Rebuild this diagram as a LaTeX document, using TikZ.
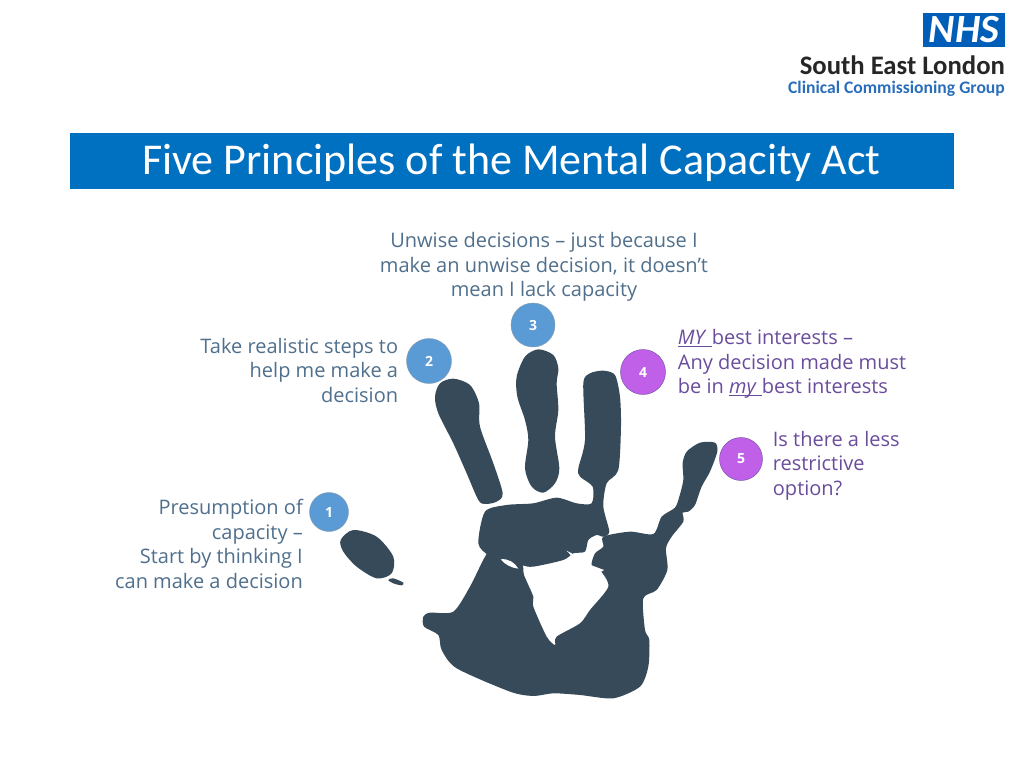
\documentclass[tikz,border=0pt]{standalone}
\usepackage{fontspec}
\setmainfont{Carlito}
\newfontfamily\bodyfont{Open Sans}
\usetikzlibrary{positioning}
\definecolor{handcol}{HTML}{364A5A}
\definecolor{bluecap}{HTML}{4F6F8C}
\definecolor{purplecap}{HTML}{6A4C9C}
\definecolor{titlecol}{HTML}{0070C0}
\definecolor{nhscol}{HTML}{005EB8}
\definecolor{ccgcol}{HTML}{2A6EBB}
\definecolor{numbluefill}{HTML}{5B9BD5}
\definecolor{numpurplefill}{HTML}{C060E8}
\tikzset{
	numblue/.style={circle,draw=bluecap!70,fill=numbluefill,minimum size=43pt,inner sep=0pt,text=white,font=\bodyfont\bfseries\fontsize{14}{14}\selectfont},
	numpurple/.style={numblue,draw=purplecap,fill=numpurplefill},
	capblue/.style={text=bluecap,font=\bodyfont\fontsize{20}{24.5}\selectfont,inner sep=0pt},
	cappurple/.style={capblue,text=purplecap},
	handpart/.style={fill=handcol,draw=none},
	gap/.style={fill=white,draw=none}
}
\begin{document}
\begin{tikzpicture}[x=1pt,y=-1pt,node distance=8pt,align=center]
	\useasboundingbox (0,0) rectangle (1024,768);
	% title bar
	\node[fill=titlecol,minimum width=884pt,minimum height=56pt,inner sep=0pt] (bar) at (512,161) {};
	\node[text=white,font=\fontsize{44}{44}\selectfont,inner sep=0pt,anchor=base west] (title) at (142,174) {Five Principles of the Mental Capacity Act};
	% logo
	\node[fill=nhscol,minimum width=82pt,minimum height=34pt,inner sep=0pt,text=white,font=\bfseries\itshape\fontsize{40}{40}\selectfont] (nhs) at (964,30) {NHS};
	\node[anchor=east,inner sep=0pt,text=black!85,font=\bfseries\fontsize{26.7}{26.7}\selectfont] (sel) at (1005,65) {South East London};
	\node[anchor=east,inner sep=0pt,text=ccgcol,font=\bfseries\fontsize{17.6}{17.6}\selectfont] (ccg) at (1005,89) {Clinical Commissioning Group};
	% numbers
	\node[numblue,minimum size=39pt] (n_1) at (329,512) {1};
	\node[numblue,minimum size=45pt] (n_2) at (429,361) {2};
	\node[numblue,minimum size=44pt] (n_3) at (533,325) {3};
	\node[numpurple,minimum size=45pt] (n_4) at (643,372) {4};
	\node[numpurple,minimum size=43pt] (n_5) at (741,459) {5};
	% captions
	\node[capblue,align=right,anchor=north east] (t_1) at (303,499) {Presumption of\\capacity –\\Start by thinking I\\can make a decision};
	\node[capblue,align=right,left=8pt of n_2,yshift=-9pt] (t_2) {Take realistic steps to\\help me make a\\decision};
	\node[capblue,above=1pt of n_3,xshift=11pt] (t_3) {Unwise decisions – just because I\\make an unwise decision, it doesn’t\\mean I lack capacity};
	\node[cappurple,align=left,right=12pt of n_4,yshift=9.5pt] (t_4) {\underline{\smash{\textit{MY }}}best interests –\\Any decision made must\\be in \underline{\smash{\textit{my }}}best interests};
	\node[cappurple,align=left,right=10pt of n_5,yshift=-6.5pt] (t_5) {Is there a less\\restrictive\\option?};
	% little finger
	\begin{scope}[shift={(100,480)},x=0.3333pt,y=-0.3333pt]
		\fill[handpart] plot[smooth cycle] coordinates {(722,180) (760,150) (830,170) (880,230) (875,280) (830,295) (770,260) (730,215)};
		\fill[handpart] plot[smooth cycle] coordinates {(865,300) (880,295) (910,308) (905,316) (880,310)};
	\end{scope}
	% rest of hand
	\begin{scope}[shift={(400,340)},x=0.3333pt,y=-0.3333pt]
		\fill[handpart] plot[smooth cycle] coordinates {(105,170) (120,130) (160,116) (210,135) (237,190) (240,260) (280,370) (308,460) (290,485) (255,492) (235,480) (200,400) (160,310) (115,220)};
		\fill[handpart] plot[smooth cycle] coordinates {(350,110) (375,50) (415,28) (460,45) (475,85) (470,130) (475,210) (465,290) (478,385) (465,430) (430,458) (395,440) (375,385) (385,300) (375,240) (352,170)};
		\fill[handpart] plot[smooth cycle,tension=.45] coordinates {(550,130) (570,100) (610,92) (645,105) (660,170) (663,260) (655,390) (620,430) (610,500) (628,575) (610,590) (590,585) (565,600) (555,635) (520,640) (490,660) (400,680) (365,675) (300,650) (265,645) (235,610) (255,515) (320,495) (400,490) (470,473) (530,490) (575,490) (578,440) (540,410) (535,385) (555,300)};
		\fill[handpart] plot[smooth cycle,tension=.45] coordinates {(265,635) (305,645) (365,670) (372,705) (400,770) (400,800) (440,890) (465,915) (470,890) (540,850) (570,810) (625,740) (600,690) (575,675) (585,640) (610,620) (610,590) (690,575) (760,582) (785,530) (825,503) (838,470) (850,420) (848,370) (860,335) (900,308) (945,308) (952,335) (930,395) (905,440) (885,495) (865,515) (848,518) (850,545) (815,590) (798,625) (802,690) (770,750) (730,775) (735,870) (748,900) (745,980) (720,1040) (640,1075) (540,1065) (460,1060) (400,1068) (330,1055) (170,985) (125,930) (115,885) (72,860) (70,830) (90,818) (160,815) (210,740)};
		% small gaps in the palm
		\fill[gap] (500,632) -- (530,648) -- (522,656) -- cycle;
		\fill[gap] (572,675) -- (612,690) -- (605,695) -- cycle;
		\fill[gap] (302,658) .. controls (325,655) and (345,668) .. (355,686) .. controls (335,684) and (315,674) .. (302,658) -- cycle;
	\end{scope}
\end{tikzpicture}
\end{document}
